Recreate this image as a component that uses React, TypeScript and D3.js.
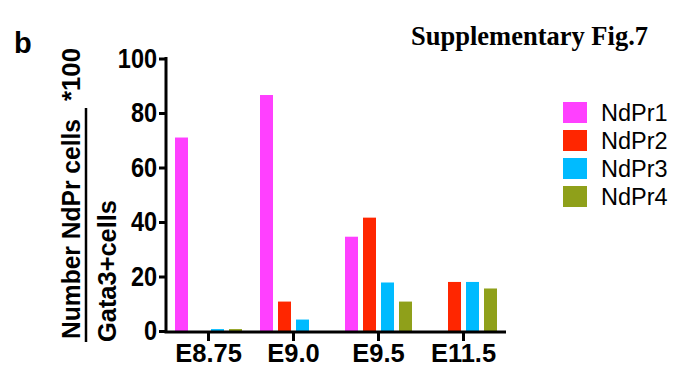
import React, { useRef, useEffect } from "react";
import { select, scaleLinear, scaleBand, axisLeft, axisBottom } from "d3";

// data
const stages = ["E8.75", "E9.0", "E9.5", "E11.5"];
const series = ["NdPr1", "NdPr2", "NdPr3", "NdPr4"];
const ndpr1 = [71, 86.6, 34.6, 0];
const ndpr2 = [0, 10.8, 41.6, 18];
const ndpr3 = [0.7, 4.2, 17.8, 18];
const ndpr4 = [0.7, 0, 10.8, 15.6];
const yTicks = [0, 20, 40, 60, 80, 100];
const colors = ["#ff40ff", "#ff2600", "#00bbff", "#8fa01a"];

const W = 678;
const H = 374;
const sans = "'Liberation Sans', Arial, sans-serif";

const Chart = () => {
  const svgRef = useRef<SVGSVGElement>(null);

  useEffect(() => {
    const svg = select(svgRef.current);
    svg.selectAll("*").remove();

    const values = [ndpr1, ndpr2, ndpr3, ndpr4];

    //scales
    const yScale = scaleLinear().domain([0, 100]).range([331, 58.5]);
    const xScale = scaleBand().domain(stages).range([166, 506]);
    const inner = scaleBand()
      .domain(series)
      .range([-33.5, 33.5])
      .paddingInner(5 / 18);

    //bars
    series.forEach((s, si) => {
      svg
        .append("g")
        .selectAll("rect")
        .data(values[si])
        .join("rect")
        .attr("x", (d, i) => xScale(stages[i])! + xScale.bandwidth() / 2 + inner(s)!)
        .attr("width", inner.bandwidth())
        .attr("y", (d) => yScale(d))
        .attr("height", (d) => yScale(0) - yScale(d))
        .attr("fill", colors[si]);
    });

    //axes
    const yAxis = axisLeft(yScale)
      .tickValues(yTicks)
      .tickSize(7)
      .tickSizeOuter(0)
      .tickPadding(2);
    const gy = svg.append("g").attr("transform", "translate(166,0)").call(yAxis);

    const xAxis = axisBottom(xScale).tickSize(9).tickSizeOuter(0).tickPadding(3);
    const gx = svg.append("g").attr("transform", "translate(0,332)").call(xAxis);

    [gy, gx].forEach((g) => {
      g.select(".domain").attr("stroke", "#000").attr("stroke-width", 3);
      g.selectAll(".tick line").attr("stroke", "#000").attr("stroke-width", 3);
      g.selectAll(".tick text")
        .attr("fill", "#000")
        .style("font-family", sans)
        .style("font-weight", "bold");
    });
    gx.selectAll(".tick text").style("font-size", "25.5px");
    // y tick labels are taller and a bit condensed in the original
    gy.selectAll(".tick text")
      .style("font-size", "27px")
      .attr("x", -9 / 0.87)
      .attr("transform", "scale(0.87,1)");
    gx.select(".domain").attr("d", "M164.5,0H506");
    gy.select(".domain").attr("d", "M0,57V333");

    //y label
    const yl = svg.append("g").style("font-family", sans).style("font-weight", "bold").style("font-size", "26px");
    yl.append("text")
      .attr("transform", "translate(80,339) rotate(-90)")
      .attr("textLength", 220)
      .attr("lengthAdjust", "spacingAndGlyphs")
      .text("Number NdPr cells");
    yl.append("text")
      .attr("transform", "translate(80,101) rotate(-90)")
      .attr("textLength", 53)
      .attr("lengthAdjust", "spacingAndGlyphs")
      .text("*100");
    yl.append("line")
      .attr("x1", 86).attr("x2", 86)
      .attr("y1", 108).attr("y2", 342)
      .attr("stroke", "#000").attr("stroke-width", 2.5);
    yl.append("text")
      .attr("transform", "translate(116,342) rotate(-90)")
      .attr("textLength", 142)
      .attr("lengthAdjust", "spacingAndGlyphs")
      .text("Gata3+cells");

    //legend
    const lg = svg.append("g").attr("transform", "translate(563,102)");
    const rows = lg
      .selectAll("g")
      .data(series)
      .join("g")
      .attr("transform", (d, i) => `translate(0,${i * 28})`);
    rows.append("rect")
      .attr("width", 24).attr("height", 21)
      .attr("fill", (d, i) => colors[i]);
    rows.append("text")
      .attr("x", 38).attr("y", 19)
      .style("font-family", sans)
      .style("font-size", "23.5px")
      .text((d) => d);

    //panel letter and title
    svg.append("text")
      .attr("x", 14).attr("y", 53)
      .style("font-family", sans).style("font-weight", "bold").style("font-size", "29px")
      .text("b");
    svg.append("text")
      .attr("x", 411).attr("y", 45)
      .style("font-family", "'Liberation Serif', 'Times New Roman', serif")
      .style("font-weight", "bold").style("font-size", "26.5px")
      .text("Supplementary Fig.7");
  }, []);

  return <svg ref={svgRef} width={W} height={H} style={{ position: "absolute", left: 0, top: 0, background: "#fff" }} />;
};

export default function App() {
  return <Chart />;
}
